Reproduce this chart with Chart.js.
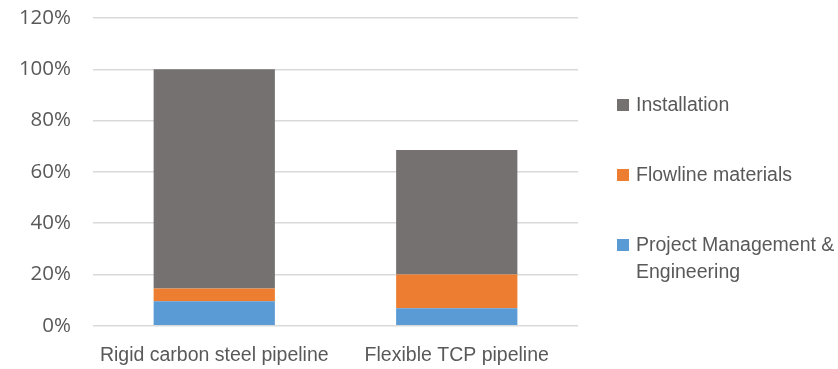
<!DOCTYPE html>
<html>
<head>
<meta charset="utf-8">
<script src="https://cdn.jsdelivr.net/npm/chart.js@4/dist/chart.umd.min.js"></script>
<style>
  html, body { margin: 0; padding: 0; background: #fff; }
  #wrap { position: relative; width: 838px; height: 369px; }
  #legend { position: absolute; left: 617px; top: 0; width: 221px; font-family: "Liberation Sans", Arial, sans-serif; font-size: 19.5px; color: #595959; }
  .item { position: absolute; left: 0; display: flex; align-items: flex-start; }
  .sw { width: 12px; height: 12px; margin-top: 8px; margin-right: 7px; flex: none; }
  .txt { width: 202px; line-height: 27px; }
</style>
</head>
<body>
<div id="wrap">
  <canvas id="c" width="838" height="369"></canvas>
  <div id="legend"></div>
</div>
<script>
// Cost breakdown, share of the rigid pipeline total (%)
const categories = ["Rigid carbon steel pipeline", "Flexible TCP pipeline"];
const projectManagement = [9.5, 6.8];
const flowlineMaterials = [5.0, 13.2];
const installation = [85.5, 48.5];
const yTicks = [0, 20, 40, 60, 80, 100, 120];

const seriesNames = ["Project Management & Engineering", "Flowline materials", "Installation"];
const seriesColors = ["#5B9BD5", "#ED7D31", "#767171"];
const seriesValues = [projectManagement, flowlineMaterials, installation];

const textColor = "#595959";

const datasets = seriesNames.map((name, i) => ({
  label: name,
  data: seriesValues[i],
  backgroundColor: seriesColors[i],
  borderWidth: 0,
  categoryPercentage: 1.0,
  barPercentage: 0.5
}));

new Chart(document.getElementById("c"), {
  type: "bar",
  data: { labels: categories, datasets },
  options: {
    responsive: false,
    animation: false,
    layout: { padding: { top: 18, right: 260, bottom: 0, left: 0 } },
    plugins: { legend: { display: false }, tooltip: { enabled: false } },
    scales: {
      x: {
        stacked: true,
        grid: { display: false },
        border: { display: false },
        ticks: {
          color: textColor,
          padding: 10,
          maxRotation: 0,
          font: { family: "'Liberation Sans', Arial, sans-serif", size: 19.5 }
        },
        afterFit: (s) => { s.height = 43.3; s.paddingLeft = 0; s.paddingRight = 0; }
      },
      y: {
        stacked: true,
        min: 0,
        max: 120,
        afterBuildTicks: (s) => { s.ticks = yTicks.map(v => ({ value: v })); },
        grid: { color: "#D9D9D9", lineWidth: 1.5, drawTicks: false },
        border: { display: false },
        ticks: {
          color: textColor,
          padding: 22,
          font: { family: "'Open Sans', sans-serif", size: 20.5 },
          callback: (v) => v + "%"
        },
        afterFit: (s) => { s.width = 93; s.paddingTop = 0; s.paddingBottom = 0; }
      }
    }
  }
});

// Legend on the right, top entry is the top segment of the stack
const legendTops = [91, 161, 231];
const legend = document.getElementById("legend");
[2, 1, 0].forEach((idx, k) => {
  const item = document.createElement("div");
  item.className = "item";
  item.style.top = legendTops[k] + "px";
  const sw = document.createElement("div");
  sw.className = "sw";
  sw.style.background = seriesColors[idx];
  const tx = document.createElement("div");
  tx.className = "txt";
  tx.textContent = seriesNames[idx];
  item.appendChild(sw);
  item.appendChild(tx);
  legend.appendChild(item);
});
</script>
</body>
</html>
